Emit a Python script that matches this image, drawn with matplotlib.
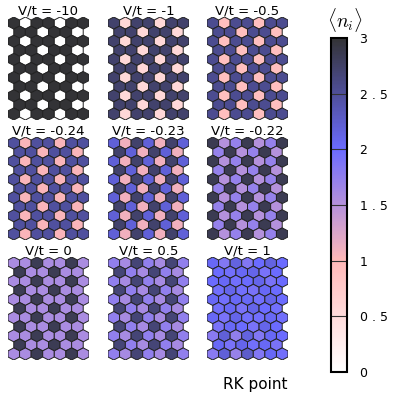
import numpy as np
import matplotlib
matplotlib.use("Agg")
import matplotlib.pyplot as plt
from matplotlib.collections import PolyCollection
from matplotlib.colors import LinearSegmentedColormap, Normalize

# panel titles, row-major 3x3
titles = ["V/t = -10", "V/t = -1", "V/t = -0.5",
          "V/t = -0.24", "V/t = -0.23", "V/t = -0.22",
          "V/t = 0", "V/t = 0.5", "V/t = 1"]

# occupation on the three sublattices (A, B, C) of the ordered panels
sub_A = [3.0, 2.72, 2.55, 2.48, 2.20, 2.85, 1.58, 1.74]
sub_B = [0.0, 0.56, 0.90, 1.04, 1.10, 1.50, 1.58, 1.60]
sub_C = [3.0, 2.72, 2.55, 2.48, 2.72, 1.72, 2.84, 2.68]

# RK point (V/t = 1): liquid-like, read cell by cell (rows of 7 / 6)
rk_rows = [
    [2.05, 1.85, 2.15, 1.85, 2.00, 2.15, 2.00],
    [2.00, 1.95, 2.05, 2.10, 1.90, 2.00],
    [2.00, 2.05, 1.95, 2.00, 2.10, 1.90, 2.00],
    [1.95, 2.10, 1.95, 1.90, 2.05, 2.00],
    [2.05, 1.95, 2.05, 2.05, 1.95, 2.10, 2.00],
    [1.95, 2.05, 1.90, 2.10, 2.00, 1.95],
    [2.05, 1.90, 2.10, 1.95, 1.95, 2.05, 1.95],
    [1.90, 2.05, 2.00, 1.90, 2.10, 2.00],
    [1.80, 2.20, 1.75, 2.15, 1.85, 2.05, 2.00],
    [2.05, 1.90, 2.10, 1.95, 2.05, 1.90],
    [1.80, 2.20, 1.70, 2.25, 1.85, 2.05, 1.95],
]

cbar_ticks = [0, 0.5, 1, 1.5, 2, 2.5, 3]
cbar_ticklabels = ["0", "0 . 5", "1", "1 . 5", "2", "2 . 5", "3"]

n_rows = 11
long_row, short_row = 7, 6

plt.rcParams["mathtext.fontset"] = "cm"

cmap = LinearSegmentedColormap.from_list(
    "occ", [(0.0, (1.0, 1.0, 1.0)),
            (1 / 3, (1.0, 0.72, 0.72)),
            (2 / 3, (0.42, 0.42, 1.0)),
            (1.0, (0.20, 0.20, 0.21))])
norm = Normalize(0, 3)

R = 1 / np.sqrt(3)
ang = np.deg2rad(30 + 60 * np.arange(6))
hex_x = R * np.cos(ang)
hex_y = R * np.sin(ang)


def lattice():
    cells = []
    for r in range(n_rows):
        n = long_row if r % 2 == 0 else short_row
        for c in range(n):
            cells.append((r, c, c + 0.5 * (r % 2)))
    return cells


def panel_values(k, cells):
    vals = []
    for r, c, x in cells:
        if k == 8:
            vals.append(rk_rows[r][c])
            continue
        g = int(round(x - 1.5 * r)) % 3
        vals.append([sub_A[k], sub_B[k], sub_C[k]][g])
    return np.array(vals)


W, H = 395, 395
fig = plt.figure(figsize=(W / 100, H / 100), dpi=100)

col_left = [8, 108, 207]
row_top = [17, 137, 257]
pw, ph = 81, 103

cells = lattice()
for k in range(9):
    i, j = divmod(k, 3)
    ax = fig.add_axes([col_left[j] / W, 1 - (row_top[i] + ph) / H, pw / W, ph / H])
    verts = []
    for r, c, x in cells:
        y = -r * 1.5 * R
        verts.append(np.column_stack([x + hex_x, y + hex_y]))
    pc = PolyCollection(verts, cmap=cmap, norm=norm,
                        edgecolors="#222222", linewidths=0.7)
    pc.set_array(panel_values(k, cells))
    ax.add_collection(pc)
    ax.set_xlim(-0.5, 6.5)
    ax.set_ylim(-10 * 1.5 * R - R, R)
    ax.set_axis_off()
    ax.set_title(titles[k], fontsize=9.5, pad=1.5)

fig.text(255 / W, 1 - 385 / H, "RK point", fontsize=11, ha="center", va="center")

cax = fig.add_axes([331 / W, 1 - 372 / H, 16 / W, 334 / H])
sm = plt.cm.ScalarMappable(norm=norm, cmap=cmap)
cb = fig.colorbar(sm, cax=cax, ticks=cbar_ticks)
cb.ax.set_yticklabels(cbar_ticklabels, fontsize=9)
cb.ax.tick_params(length=0, pad=9)
cb.outline.set_linewidth(1.5)
for t in cbar_ticks[1:-1]:
    cb.ax.axhline(t, color="#333333", lw=0.8)
fig.text(345 / W, 1 - 20 / H, r"$\langle n_i \rangle$", fontsize=14,
         ha="center", va="center")

fig.savefig("out.png", dpi=100)
